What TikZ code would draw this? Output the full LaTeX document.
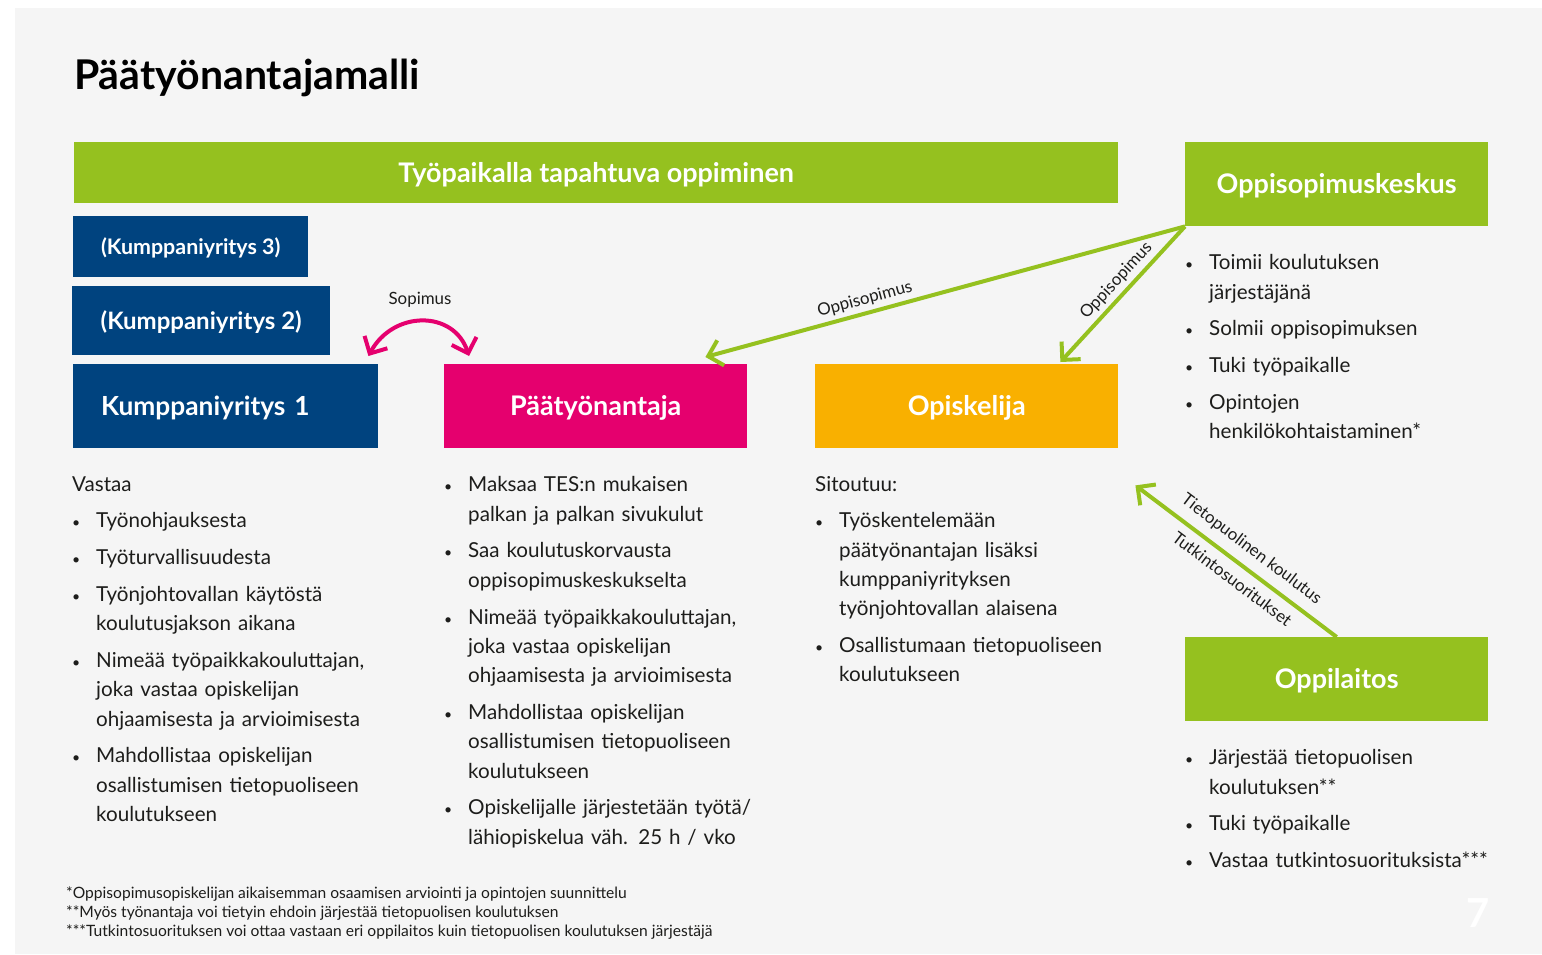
\documentclass[tikz,border=0pt]{standalone}
\usepackage{fontspec}
\setmainfont{Lato}
\usepackage{enumitem}
\usetikzlibrary{arrows.meta,calc}

\definecolor{vihrea}{HTML}{95C11F}
\definecolor{sininen}{HTML}{00437F}
\definecolor{magenta}{HTML}{E5006E}
\definecolor{oranssi}{HTML}{F9B000}
\definecolor{tausta}{HTML}{F5F5F5}
\definecolor{teksti}{HTML}{1D1D1B}

\newcommand{\leipa}{\fontsize{20.6bp}{29.3bp}\selectfont}
\newcommand{\pieni}{\fontsize{16.9bp}{19bp}\selectfont}
\newcommand{\otsake}{\bfseries\fontsize{27bp}{30bp}\selectfont}
\newcommand{\pallo}{{\fontsize{14bp}{14bp}\selectfont\textbullet}}

\newenvironment{luettelo}{\begin{itemize}[label={\pallo}, leftmargin=24bp, labelwidth=24bp, labelsep=0pt, align=left, itemsep=7.5bp, topsep=7.5bp, parsep=0pt, partopsep=0pt]}{\end{itemize}}

\begin{document}
\begin{tikzpicture}[x=1bp,y=-1bp,
  box/.style={inner sep=0pt, anchor=north west, text=white, font=\otsake, text height=19.4bp, text depth=0pt},
  txt/.style={inner sep=0pt, anchor=base west, align=left, text=teksti, font=\leipa},
  nuoliteksti/.style={text=teksti, font=\pieni, inner sep=1bp},
  nuoli/.style={line width=4bp, -{Straight Barb[length=13bp,width=26bp]}}]
  \useasboundingbox (0,0) rectangle (1542,954);
  \fill[white] (0,0) rectangle (1542,954);
  \fill[tausta] (15,8) rectangle (1542,954);

  \node[anchor=base west, inner sep=0pt, text=black, font=\bfseries\fontsize{41bp}{45bp}\selectfont] (otsikko) at (74,89) {Päätyönantajamalli};

  % laatikot
  \node[box, fill=vihrea, minimum width=1044bp, minimum height=61bp] (oppiminen) at (74,142) {Työpaikalla tapahtuva oppiminen};
  \node[box, fill=vihrea, minimum width=303bp, minimum height=84bp] (keskus) at (1185,142) {Oppisopimuskeskus};
  \node[box, fill=sininen, minimum width=235bp, minimum height=61bp, font=\bfseries\fontsize{21.4bp}{24bp}\selectfont, text height=15.4bp] (kump3) at (73,216) {(Kumppaniyritys 3)};
  \node[box, fill=sininen, minimum width=258bp, minimum height=69bp, font=\bfseries\fontsize{24bp}{27bp}\selectfont, text height=17.3bp] (kump2) at (72,286) {(Kumppaniyritys 2)};
  \node[box, fill=sininen, minimum width=305bp, minimum height=84bp, text width=249bp, inner xsep=28bp, align=left, font=\bfseries\fontsize{26.3bp}{30bp}\selectfont, text height=19bp] (kump1) at (73,364) {Kumppaniyritys 1};
  \node[box, fill=magenta, minimum width=303bp, minimum height=84bp] (paatyo) at (444,364) {Päätyönantaja};
  \node[box, fill=oranssi, minimum width=303bp, minimum height=84bp] (opisk) at (815,364) {Opiskelija};
  \node[box, fill=vihrea, minimum width=303bp, minimum height=84bp] (oppilaitos) at (1185,637) {Oppilaitos};

  % nuolet
  \node[nuoliteksti] (sopimus) at (420,300) {Sopimus};
  \draw[magenta, line width=4bp, {Straight Barb[length=13bp,width=26bp]}-{Straight Barb[length=13bp,width=26bp]}]
    ([shift={(-10,-8)}]kump1.north east) .. controls ([shift={(15,-54)}]kump1.north east) and ([shift={(10,-54)}]paatyo.north west) .. ([shift={(25,-8)}]paatyo.north west);
  \draw[vihrea, nuoli] (keskus.south west) -- node[nuoliteksti, pos=0.66, above=3bp, sloped] (sop1) {Oppisopimus} ([shift={(-42,-7)}]paatyo.north east);
  \draw[vihrea, nuoli] (keskus.south west) -- node[nuoliteksti, pos=0.47, above=3bp, sloped] (sop2) {Oppisopimus} ([shift={(-58,-2)}]opisk.north east);
  \draw[vihrea, nuoli] (oppilaitos.north) -- node[nuoliteksti, pos=0.48, above=8bp, sloped] (tieto) {Tietopuolinen koulutus}
    node[nuoliteksti, pos=0.47, below=7bp, sloped] (tutk) {Tutkintosuoritukset} ([shift={(17,37)}]opisk.south east);

  % tekstit
  \node[txt, text width=330bp] (vastaa) at (72,491) {Vastaa
    \begin{luettelo}
    \item Työnohjauksesta
    \item Työturvallisuudesta
    \item Työnjohtovallan käytöstä\newline koulutusjakson aikana
    \item Nimeää työpaikkakouluttajan,\newline joka vastaa opiskelijan\newline ohjaamisesta ja arvioimisesta
    \item Mahdollistaa opiskelijan\newline osallistumisen tietopuoliseen\newline koulutukseen
    \end{luettelo}};
  \node[txt, text width=330bp] (maksaa) at (444,455) {%
    \begin{luettelo}
    \item Maksaa TES:n mukaisen\newline palkan ja palkan sivukulut
    \item Saa koulutuskorvausta\newline oppisopimuskeskukselta
    \item Nimeää työpaikkakouluttajan,\newline joka vastaa opiskelijan\newline ohjaamisesta ja arvioimisesta
    \item Mahdollistaa opiskelijan\newline osallistumisen tietopuoliseen\newline koulutukseen
    \item Opiskelijalle järjestetään työtä/\newline lähiopiskelua väh. 25 h / vko
    \end{luettelo}};
  \node[txt, text width=320bp] (sitoutuu) at (815,491) {Sitoutuu:
    \begin{luettelo}
    \item Työskentelemään\newline päätyönantajan lisäksi\newline kumppaniyrityksen\newline työnjohtovallan alaisena
    \item Osallistumaan tietopuoliseen\newline koulutukseen
    \end{luettelo}};
  \node[txt, text width=330bp] (toimii) at (1185,233) {%
    \begin{luettelo}
    \item Toimii koulutuksen\newline järjestäjänä
    \item Solmii oppisopimuksen
    \item Tuki työpaikalle
    \item Opintojen\newline henkilökohtaistaminen*
    \end{luettelo}};
  \node[txt, text width=330bp] (jarjestaa) at (1185,728) {%
    \begin{luettelo}
    \item Järjestää tietopuolisen\newline koulutuksen**
    \item Tuki työpaikalle
    \item Vastaa tutkintosuorituksista***
    \end{luettelo}};

  \node[txt, font=\fontsize{15.6bp}{19bp}\selectfont] (alaviite) at (66,936) {*Oppisopimusopiskelijan aikaisemman osaamisen arviointi ja opintojen suunnittelu\\
    **Myös työnantaja voi tietyin ehdoin järjestää tietopuolisen koulutuksen\\
    ***Tutkintosuorituksen voi ottaa vastaan eri oppilaitos kuin tietopuolisen koulutuksen järjestäjä};
  \node[text=white, font=\bfseries\fontsize{40bp}{40bp}\selectfont] (sivu) at (1478,913) {7};
\end{tikzpicture}
\end{document}
